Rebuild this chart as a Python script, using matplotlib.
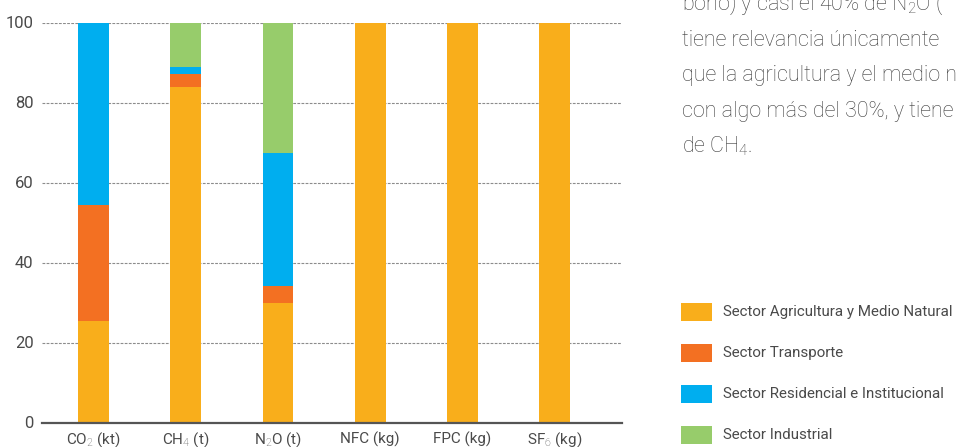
import matplotlib
matplotlib.use("Agg")
import matplotlib.pyplot as plt
from matplotlib.patches import Rectangle
import numpy as np

plt.rcParams['font.family'] = ['Roboto', 'DejaVu Sans']
plt.rcParams['mathtext.fontset'] = 'custom'
plt.rcParams['mathtext.rm'] = 'Roboto:light'
plt.rcParams['mathtext.it'] = 'Roboto:light'
plt.rcParams['mathtext.bf'] = 'Roboto:light'

# Share of emissions per gas (%), by sector
categories = ["CO$_2$ (kt)", "CH$_4$ (t)", "N$_2$O (t)", "NFC (kg)", "FPC (kg)", "SF$_6$ (kg)"]
agricultura = [25.5, 83.8, 30.0, 100, 100, 100]
transporte = [28.8, 3.4, 4.1, 0, 0, 0]
residencial = [45.7, 1.8, 33.2, 0, 0, 0]
industrial = [0.0, 11.0, 32.7, 0, 0, 0]

sectors = ["Sector Agricultura y Medio Natural", "Sector Transporte",
           "Sector Residencial e Institucional", "Sector Industrial"]
colors = ["#F9AE1B", "#F37022", "#00AEEF", "#97CC6B"]

paragraph = [
    "bono) y casi el 40% de N$_2$O (",
    "tiene relevancia únicamente",
    "que la agricultura y el medio n",
    "con algo más del 30%, y tiene",
    "de CH$_4$.",
]

text_color = "#4a4a4a"

fig = plt.figure(figsize=(9.59, 4.47), dpi=100)
ax = fig.add_axes([42 / 959, 24.5 / 447, 580 / 959, 400 / 447])

x = np.arange(len(categories))
bottom = np.zeros(len(categories))
for vals, col in zip([agricultura, transporte, residencial, industrial], colors):
    ax.bar(x, vals, width=0.336, bottom=bottom, color=col, zorder=3, linewidth=0)
    bottom += np.array(vals)

ax.set_xlim(-0.559, 5.73)
ax.set_ylim(0, 100)
ax.set_yticks([0, 20, 40, 60, 80, 100])
ax.set_xticks(x)
ax.set_xticklabels(categories)
ax.grid(axis='y', color='#8c8c8c', linestyle=(0, (2.5, 1.2)), linewidth=0.8, zorder=0)
ax.tick_params(axis='y', length=0, labelsize=12, colors=text_color, pad=6)
ax.tick_params(axis='x', length=0, labelsize=11, colors=text_color, pad=15)
for lbl in ax.get_xticklabels():
    lbl.set_verticalalignment('baseline')
for s in ['top', 'right', 'left']:
    ax.spines[s].set_visible(False)
ax.spines['bottom'].set_color('#555555')
ax.spines['bottom'].set_linewidth(1.6)
ax.spines['bottom'].set_zorder(4)

# Paragraph text on the right
for i, line in enumerate(paragraph):
    fig.text(682 / 959, 1 - (10 + 35.5 * i) / 447, line, fontsize=15.5,
             color="#3c3c3c", ha='left', va='baseline', fontweight='light')

# Legend swatches
for i, (lab, col) in enumerate(zip(sectors, colors)):
    yc = 312 + 41 * i
    fig.patches.append(Rectangle((681 / 959, 1 - (yc + 9) / 447), 31 / 959, 18 / 447,
                                 transform=fig.transFigure, color=col, linewidth=0))
    fig.text(723 / 959, 1 - yc / 447, lab, fontsize=10.9, color=text_color,
             ha='left', va='center')

fig.savefig("out.png", dpi=100)
